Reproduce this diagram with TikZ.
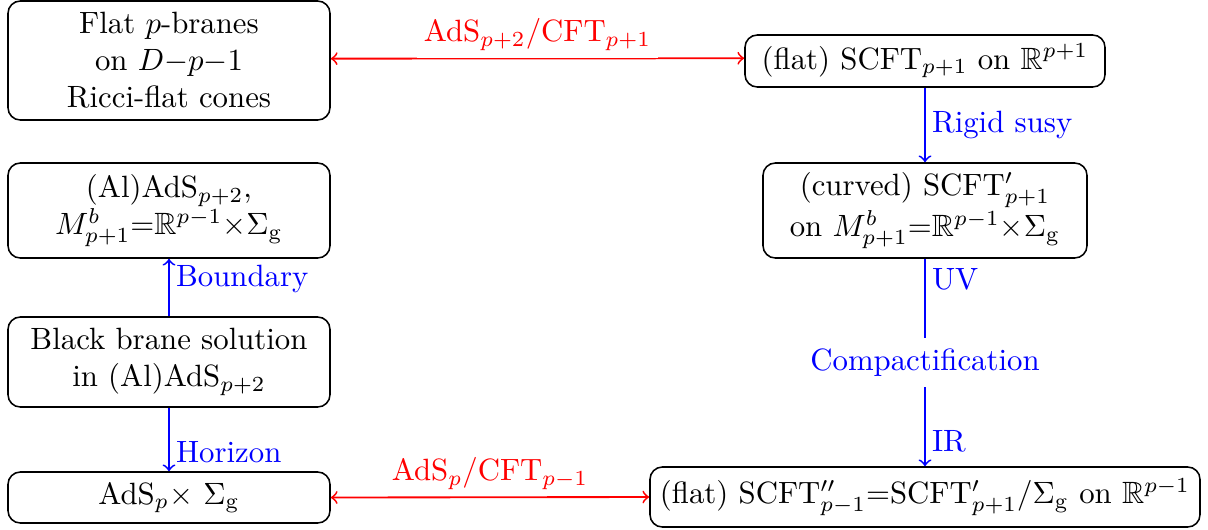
\documentclass[tikz,border=0pt]{standalone}
\usepackage{amsmath,amssymb}
\begin{document}
\begin{tikzpicture}[x=0.3247pt,y=-0.3247pt,
  box/.style={draw, rounded corners=4pt, align=center, inner sep=0pt, line width=0.5pt},
  redarr/.style={draw=red, <->, semithick},
  bluearr/.style={draw=blue, ->, semithick},
  redlab/.style={text=red, fill=white, above, inner sep=2.2pt},
  bluelab/.style={text=blue, right, inner sep=2pt}]
\useasboundingbox (0,0) rectangle (1208,529);
\node[box, minimum width=322*0.3247pt, minimum height=119*0.3247pt] (A) at (169,60.5) {Flat $p$-branes\\ on $D{-}p{-}1$\\ Ricci-flat cones};
\node[box, minimum width=322*0.3247pt, minimum height=95*0.3247pt] (B) at (169,210.5) {(Al)AdS$_{p+2}$,\\ $M^b_{p+1}{=}\mathbb{R}^{p-1}{\times}\Sigma_{\rm g}$};
\node[box, minimum width=322*0.3247pt, minimum height=90*0.3247pt] (C) at (169,362) {Black brane solution\\ in (Al)AdS$_{p+2}$};
\node[box, minimum width=322*0.3247pt, minimum height=51*0.3247pt] (D) at (169,497.5) {AdS$_p\times$ $\Sigma_{\rm g}$};
\node[box, minimum width=360*0.3247pt, minimum height=52*0.3247pt] (E) at (925,61) {(flat) SCFT$_{p+1}$ on $\mathbb{R}^{p+1}$};
\node[box, minimum width=324*0.3247pt, minimum height=95*0.3247pt] (F) at (925,210.5) {(curved) SCFT$'_{p+1}$\\ on $M^b_{p+1}{=}\mathbb{R}^{p-1}{\times}\Sigma_{\rm g}$};
\node[box, minimum width=550*0.3247pt, minimum height=60*0.3247pt] (G) at (925,497) {(flat) SCFT$''_{p-1}$=SCFT$'_{p+1}/\Sigma_{\rm g}$ on $\mathbb{R}^{p-1}$};
\path[redarr] ([yshift=0.6pt]A.east) -- node[redlab] {AdS$_{p+2}$/CFT$_{p+1}$} ([yshift=0.9pt]E.west);
\path[redarr] (D.east) -- node[redlab] {AdS$_p$/CFT$_{p-1}$} (G.west);
\path[bluearr] (E.south) -- node[bluelab] {Rigid susy} (F.north);
\path[bluearr] (C.north) -- node[bluelab, pos=0.65] {Boundary} (B.south);
\path[bluearr] (C.south) -- node[bluelab, pos=0.7] {Horizon} (D.north);
\path[bluearr] (F.south) -- node[bluelab, pos=0.1] {UV}
  node[text=blue, fill=white, pos=0.5] {Compactification}
  node[bluelab, pos=0.88] {IR} (G.north);
\end{tikzpicture}
\end{document}
